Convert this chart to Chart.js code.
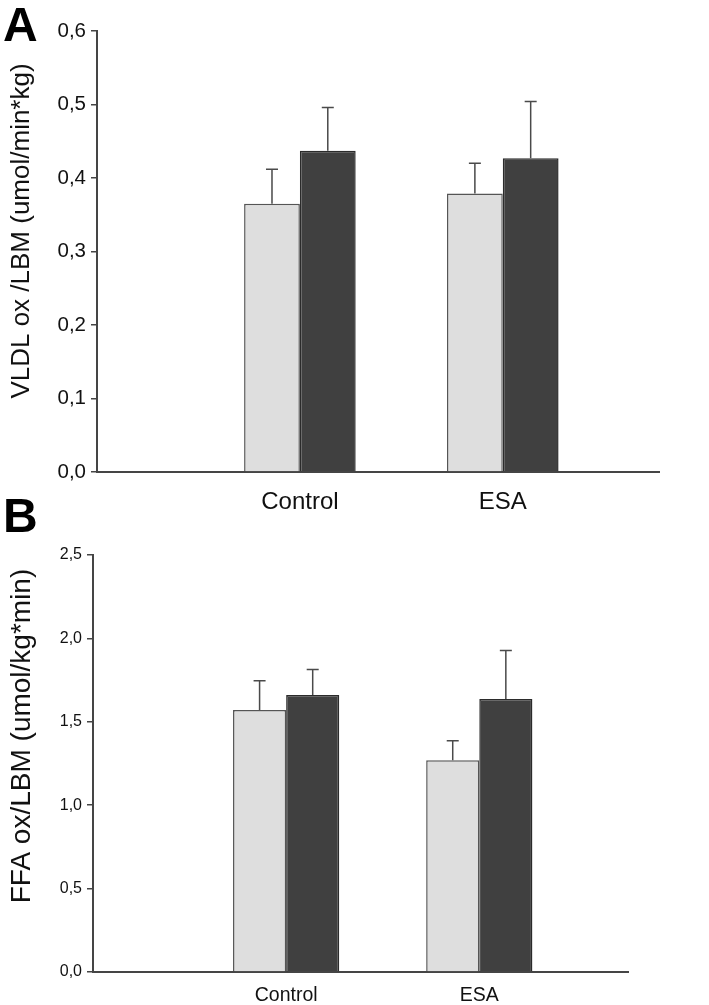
<!DOCTYPE html>
<html>
<head>
<meta charset="utf-8">
<title>VLDL and FFA oxidation</title>
<script src="https://cdn.jsdelivr.net/npm/chart.js"></script>
<style>
  * { margin: 0; padding: 0; box-sizing: border-box; }
  body { background: #fff; width: 709px; height: 1005px; position: relative; overflow: hidden; }
  canvas { position: absolute; left: 0; }
  #chartA { top: 0; }
  #chartB { top: 490px; }
</style>
</head>
<body>
<canvas id="chartA" width="709" height="520"></canvas>
<canvas id="chartB" width="709" height="515"></canvas>

<script>
// categories and values
const categories = ['Control', 'ESA'];

const vldlLight = [0.365, 0.379];
const vldlLightErr = [0.047, 0.041];
const vldlDark = [0.437, 0.427];
const vldlDarkErr = [0.059, 0.077];

const ffaLight = [1.57, 1.27];
const ffaLightErr = [0.176, 0.116];
const ffaDark = [1.66, 1.636];
const ffaDarkErr = [0.154, 0.292];

const vldlTicks = [0, 0.1, 0.2, 0.3, 0.4, 0.5, 0.6];
const ffaTicks = [0, 0.5, 1.0, 1.5, 2.0, 2.5];

const FONT = '"Liberation Sans", Arial, sans-serif';
const LIGHT = '#dedede';
const DARK = '#404040';
const AXIS = '#454545';

const fmt = v => Number(v).toFixed(1).replace('.', ',');
const points = vals => vals.map((v, i) => ({ x: i + 1, y: v }));

// one-sided (upward) error bars with a small cap
const errorBars = {
  id: 'errorBars',
  afterDatasetsDraw(chart) {
    const ctx = chart.ctx;
    const y = chart.scales.y;
    ctx.save();
    ctx.strokeStyle = '#4a4a4a';
    ctx.lineWidth = 1.5;
    chart.data.datasets.forEach((ds, di) => {
      const meta = chart.getDatasetMeta(di);
      meta.data.forEach((bar, i) => {
        const top = y.getPixelForValue(ds.data[i].y + ds.errors[i]);
        ctx.beginPath();
        ctx.moveTo(bar.x, bar.y);
        ctx.lineTo(bar.x, top);
        ctx.moveTo(bar.x - 6, top);
        ctx.lineTo(bar.x + 6, top);
        ctx.stroke();
      });
    });
    ctx.restore();
  }
};

// panel letter and rotated y title
const decorations = {
  id: 'decorations',
  afterDraw(chart) {
    const o = chart.options.plugins.decorations;
    const ctx = chart.ctx;
    ctx.save();
    ctx.fillStyle = '#000';
    ctx.textBaseline = 'top';
    ctx.textAlign = 'left';
    ctx.font = 'bold 48px ' + FONT;
    ctx.fillText(o.letter, o.letterX, o.letterY);
    ctx.translate(o.titleX, o.titleY);
    ctx.rotate(-Math.PI / 2);
    ctx.textAlign = 'center';
    ctx.textBaseline = 'middle';
    ctx.font = o.titleSize + 'px ' + FONT;
    ctx.fillStyle = '#111';
    ctx.fillText(o.title, 0, 0);
    ctx.restore();
  }
};

function makeChart(id, cfg) {
  return new Chart(document.getElementById(id), {
    type: 'bar',
    data: {
      datasets: [
        { label: 'Group 1', data: points(cfg.light), errors: cfg.lightErr, backgroundColor: LIGHT, borderColor: '#555', borderWidth: 1.5 },
        { label: 'Group 2', data: points(cfg.dark), errors: cfg.darkErr, backgroundColor: DARK, borderColor: '#2b2b2b', borderWidth: 1.5 }
      ]
    },
    options: {
      responsive: false,
      animation: false,
      layout: { padding: { top: cfg.padTop, right: cfg.padRight, left: 0, bottom: 0 } },
      datasets: { bar: { barPercentage: 1, categoryPercentage: 0.55 } },
      scales: {
        x: {
          type: 'linear',
          offset: false,
          min: 0,
          max: 2.77,
          afterBuildTicks: s => { s.ticks = categories.map((c, i) => ({ value: i + 1 })); },
          afterFit: s => { s.height = cfg.xHeight; },
          grid: { display: false, offset: false },
          border: { display: true, color: AXIS, width: 2 },
          ticks: {
            callback: v => categories[v - 1],
            color: '#111',
            padding: cfg.xPad,
            maxRotation: 0,
            font: { family: FONT, size: cfg.catSize }
          }
        },
        y: {
          min: 0,
          max: cfg.ticks[cfg.ticks.length - 1],
          afterBuildTicks: s => { s.ticks = cfg.ticks.map(v => ({ value: v })); },
          afterFit: s => { s.width = cfg.yWidth; },
          grid: { drawOnChartArea: false, drawTicks: true, tickLength: 6, color: AXIS, lineWidth: 1.5 },
          border: { display: true, color: AXIS, width: 2 },
          ticks: {
            callback: fmt,
            color: '#111',
            padding: 5,
            font: { family: FONT, size: cfg.tickSize }
          }
        }
      },
      plugins: {
        legend: { display: false },
        tooltip: { enabled: false },
        decorations: cfg.deco
      }
    },
    plugins: [errorBars, decorations]
  });
}

makeChart('chartA', {
  light: vldlLight, lightErr: vldlLightErr, dark: vldlDark, darkErr: vldlDarkErr,
  ticks: vldlTicks,
  padTop: 31, padRight: 50, yWidth: 97, xHeight: 48, xPad: 8,
  catSize: 24, tickSize: 20.5,
  deco: { letter: 'A', letterX: 3, letterY: 4, title: 'VLDL ox /LBM (umol/min*kg)', titleX: 22, titleY: 231, titleSize: 26 }
});

makeChart('chartB', {
  light: ffaLight, lightErr: ffaLightErr, dark: ffaDark, darkErr: ffaDarkErr,
  ticks: ffaTicks,
  padTop: 65, padRight: 81, yWidth: 93, xHeight: 33, xPad: 4,
  catSize: 19.5, tickSize: 16,
  deco: { letter: 'B', letterX: 3, letterY: 5, title: 'FFA ox/LBM (umol/kg*min)', titleX: 22, titleY: 246, titleSize: 28 }
});
</script>
</body>
</html>
